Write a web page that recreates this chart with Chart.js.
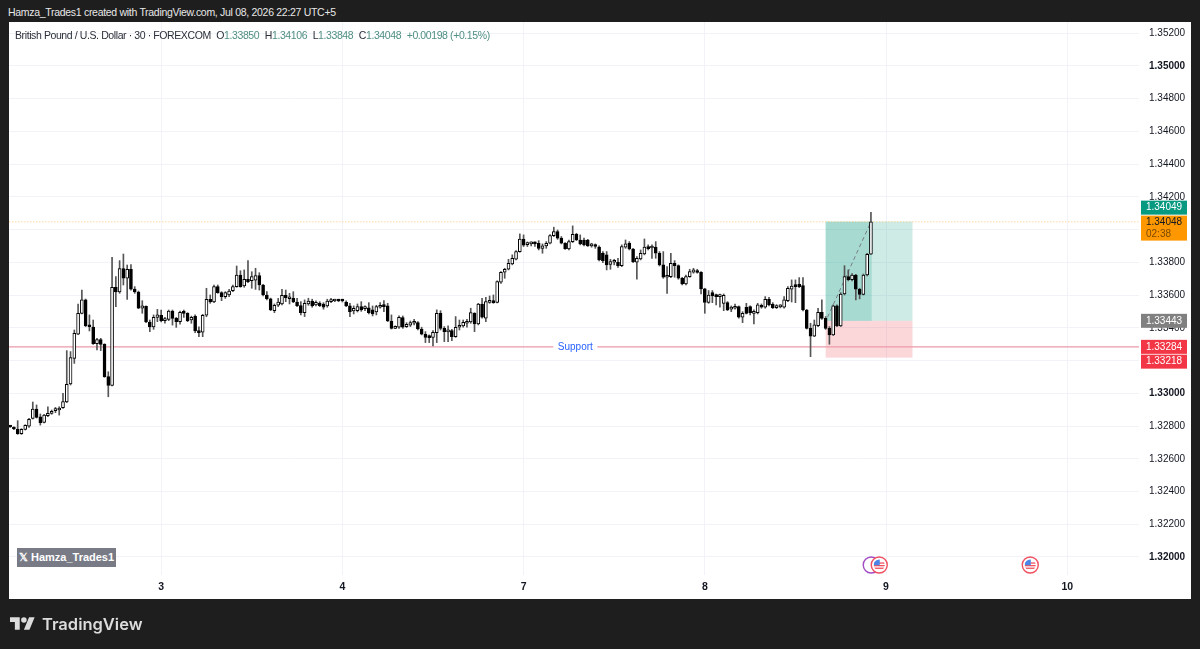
<!DOCTYPE html>
<html><head><meta charset="utf-8">
<style>
html,body{margin:0;padding:0;background:#1e1e1e;width:1200px;height:649px;overflow:hidden;font-family:"Liberation Sans",sans-serif}
#panel{position:absolute;left:9px;top:22px;width:1182px;height:577px;background:#fff}
#head{position:absolute;left:8px;top:5px;font-size:10.5px;line-height:14px;letter-spacing:-.3px;color:#e8e8e8;white-space:nowrap}
#leg{position:absolute;left:15px;top:28px;font-size:10.5px;line-height:14px;letter-spacing:-.4px;color:#2a2e39;white-space:nowrap}
#leg i{font-style:normal;color:#4f8f84}
#leg b{font-weight:normal;margin-left:3px}
#wm{position:absolute;left:17px;top:548px;width:99px;height:19px;background:#787b86;color:#fff;font-size:11px;line-height:19px;font-weight:bold;text-align:center;white-space:nowrap}
#logo{position:absolute;left:10px;top:617px}
#tv{position:absolute;left:42px;top:611px;font-family:Inter,sans-serif;font-size:16.5px;line-height:26px;font-weight:600;color:#dcdcdc}
canvas{display:block}
</style></head><body>
<div id="panel"><canvas id="c" width="1182" height="577"></canvas></div>
<div id="head">Hamza_Trades1 created with TradingView.com, Jul 08, 2026 22:27 UTC+5</div>
<div id="leg">British Pound / U.S. Dollar · 30 · FOREXCOM <b>O<i>1.33850</i></b> <b>H<i>1.34106</i></b> <b>L<i>1.33848</i></b> <b>C<i>1.34048</i></b> <b><i>+0.00198 (+0.15%)</i></b></div>
<div id="wm">𝕏 Hamza_Trades1</div>
<svg id="logo" width="25" height="13" viewBox="0 4 36 18"><path fill="#dcdcdc" d="M14 22H7V11H0V4h14v18zM28 22h-8l7.5-18h8L28 22z"/><circle cx="20" cy="8" r="4" fill="#dcdcdc"/></svg>
<div id="tv">TradingView</div>
<script src="https://cdn.jsdelivr.net/npm/chart.js@4"></script>
<script>
const opens=[1.32796,1.32792,1.32782,1.32753,1.32780,1.32800,1.32847,1.32904,1.32857,1.32823,1.32863,1.32878,1.32894,1.32898,1.32912,1.32947,1.33057,1.33214,1.33362,1.33489,1.33572,1.33413,1.33405,1.33303,1.33328,1.33299,1.33102,1.33049,1.33648,1.33619,1.33762,1.33703,1.33758,1.33637,1.33619,1.33521,1.33532,1.33436,1.33405,1.33464,
1.33477,1.33444,1.33452,1.33503,1.33458,1.33438,1.33495,1.33489,1.33448,1.33470,1.33381,1.33373,1.33477,1.33574,1.33558,1.33652,1.33615,1.33591,1.33601,1.33627,1.33652,1.33723,1.33656,1.33697,1.33688,1.33692,1.33719,1.33662,1.33601,1.33578,
1.33505,1.33538,1.33546,1.33599,1.33578,1.33580,1.33558,1.33536,1.33493,1.33546,1.33564,1.33540,1.33552,1.33546,1.33534,1.33560,1.33564,1.33569,1.33566,1.33556,1.33534,1.33503,1.33505,1.33530,1.33518,1.33522,1.33510,1.33497,1.33526,1.33534,
1.33534,1.33442,1.33397,1.33404,1.33463,1.33408,1.33416,1.33428,1.33432,1.33393,1.33361,1.33342,1.33342,1.33371,1.33489,1.33397,1.33375,1.33383,1.33346,1.33404,1.33412,1.33428,1.33436,1.33489,1.33424,1.33546,1.33459,1.33556,1.33562,1.33556,
1.33679,1.33740,1.33758,1.33791,1.33819,1.33866,1.33943,1.33909,1.33913,1.33915,1.33917,1.33886,1.33901,1.33917,1.33964,1.33988,1.33948,1.33917,1.33882,1.33927,1.33972,1.33937,1.33937,1.33937,1.33901,1.33901,1.33893,1.33856,1.33846,1.33787,
1.33801,1.33801,1.33780,1.33893,1.33917,1.33882,1.33801,1.33821,1.33852,1.33893,1.33888,1.33893,1.33856,1.33785,1.33709,1.33713,1.33795,1.33780,1.33703,1.33668,1.33713,1.33740,1.33750,1.33740,1.33638,1.33556,1.33615,1.33595,1.33591,1.33550,
1.33554,1.33514,1.33520,1.33530,1.33465,1.33526,1.33530,1.33489,1.33493,1.33536,1.33526,1.33575,1.33544,1.33524,1.33528,1.33526,1.33566,1.33636,1.33660,1.33666,1.33658,1.33509,1.33397,1.33350,1.33414,1.33495,1.33458,1.33397,1.33357,1.33534,
1.33412,1.33607,1.33713,1.33695,1.33723,1.33636,1.33605,1.33723,1.33850];
const highs=[1.32798,1.32796,1.32833,1.32784,1.32808,1.32847,1.32947,1.32929,1.32874,1.32872,1.32918,1.32898,1.32914,1.32918,1.33000,1.33261,1.33255,1.33387,1.33546,1.33631,1.33576,1.33479,1.33448,1.33336,1.33336,1.33303,1.33132,1.33831,1.33713,1.33811,1.33851,1.33784,1.33786,1.33652,1.33625,1.33566,1.33534,1.33448,1.33479,1.33513,
1.33509,1.33464,1.33509,1.33509,1.33464,1.33503,1.33509,1.33493,1.33472,1.33479,1.33407,1.33483,1.33642,1.33601,1.33662,1.33662,1.33621,1.33621,1.33635,1.33662,1.33778,1.33749,1.33754,1.33811,1.33743,1.33764,1.33737,1.33666,1.33621,1.33582,
1.33546,1.33580,1.33635,1.33631,1.33611,1.33621,1.33580,1.33560,1.33571,1.33581,1.33575,1.33565,1.33560,1.33554,1.33575,1.33581,1.33575,1.33575,1.33575,1.33565,1.33550,1.33534,1.33546,1.33560,1.33534,1.33554,1.33534,1.33538,1.33554,1.33566,
1.33550,1.33479,1.33412,1.33473,1.33473,1.33432,1.33442,1.33452,1.33438,1.33404,1.33377,1.33357,1.33383,1.33510,1.33505,1.33408,1.33412,1.33391,1.33469,1.33448,1.33448,1.33452,1.33520,1.33493,1.33550,1.33581,1.33587,1.33595,1.33601,1.33687,
1.33744,1.33764,1.33819,1.33846,1.33872,1.33974,1.33968,1.33925,1.33925,1.33925,1.33933,1.33913,1.33927,1.33970,1.34015,1.33998,1.33958,1.33921,1.33937,1.34023,1.33978,1.33968,1.33948,1.33941,1.33917,1.33913,1.33901,1.33866,1.33866,1.33819,
1.33819,1.33825,1.33907,1.33937,1.33927,1.33886,1.33835,1.33876,1.33943,1.33907,1.33907,1.33927,1.33866,1.33866,1.33774,1.33856,1.33811,1.33785,1.33709,1.33723,1.33758,1.33764,1.33758,1.33744,1.33642,1.33628,1.33628,1.33607,1.33607,1.33607,
1.33560,1.33534,1.33546,1.33534,1.33499,1.33550,1.33534,1.33510,1.33550,1.33546,1.33591,1.33587,1.33554,1.33542,1.33542,1.33591,1.33652,1.33693,1.33693,1.33707,1.33707,1.33513,1.33428,1.33448,1.33520,1.33571,1.33469,1.33408,1.33540,1.33540,
1.33615,1.33780,1.33754,1.33731,1.33727,1.33642,1.33729,1.33856,1.34106];
const lows=[1.32792,1.32778,1.32749,1.32749,1.32776,1.32792,1.32843,1.32849,1.32806,1.32819,1.32857,1.32872,1.32882,1.32867,1.32908,1.32943,1.33051,1.33183,1.33358,1.33485,1.33407,1.33381,1.33299,1.33265,1.33261,1.33098,1.32979,1.33045,1.33530,1.33611,1.33662,1.33574,1.33631,1.33611,1.33517,1.33489,1.33432,1.33377,1.33391,1.33438,
1.33436,1.33428,1.33444,1.33417,1.33403,1.33422,1.33464,1.33438,1.33428,1.33371,1.33346,1.33346,1.33468,1.33550,1.33554,1.33611,1.33566,1.33580,1.33591,1.33621,1.33648,1.33648,1.33648,1.33676,1.33642,1.33635,1.33631,1.33595,1.33570,1.33505,
1.33493,1.33530,1.33540,1.33560,1.33546,1.33554,1.33530,1.33479,1.33469,1.33538,1.33526,1.33534,1.33530,1.33514,1.33526,1.33554,1.33560,1.33560,1.33558,1.33530,1.33469,1.33485,1.33497,1.33501,1.33505,1.33485,1.33473,1.33479,1.33520,1.33499,
1.33438,1.33393,1.33395,1.33397,1.33397,1.33402,1.33408,1.33418,1.33387,1.33357,1.33310,1.33310,1.33290,1.33310,1.33387,1.33316,1.33316,1.33322,1.33342,1.33387,1.33404,1.33404,1.33428,1.33377,1.33418,1.33459,1.33438,1.33550,1.33550,1.33552,
1.33672,1.33703,1.33754,1.33785,1.33815,1.33862,1.33897,1.33897,1.33901,1.33897,1.33876,1.33856,1.33886,1.33913,1.33958,1.33941,1.33913,1.33880,1.33876,1.33921,1.33933,1.33907,1.33901,1.33897,1.33893,1.33886,1.33809,1.33799,1.33754,1.33758,
1.33785,1.33770,1.33774,1.33886,1.33876,1.33799,1.33697,1.33815,1.33846,1.33876,1.33825,1.33825,1.33778,1.33703,1.33611,1.33707,1.33709,1.33697,1.33662,1.33662,1.33709,1.33734,1.33734,1.33607,1.33489,1.33550,1.33554,1.33540,1.33526,1.33505,
1.33505,1.33499,1.33514,1.33459,1.33432,1.33485,1.33479,1.33424,1.33485,1.33520,1.33520,1.33534,1.33518,1.33518,1.33522,1.33520,1.33560,1.33558,1.33554,1.33646,1.33503,1.33393,1.33224,1.33346,1.33408,1.33452,1.33391,1.33300,1.33353,1.33408,
1.33408,1.33601,1.33687,1.33687,1.33571,1.33577,1.33601,1.33717,1.33848];
const closes=[1.32794,1.32782,1.32753,1.32780,1.32804,1.32841,1.32904,1.32853,1.32821,1.32867,1.32878,1.32888,1.32902,1.32908,1.32949,1.33055,1.33218,1.33367,1.33489,1.33572,1.33413,1.33407,1.33303,1.33328,1.33299,1.33102,1.33049,1.33648,1.33619,1.33762,1.33703,1.33758,1.33637,1.33619,1.33521,1.33534,1.33436,1.33405,1.33464,1.33479,
1.33444,1.33452,1.33503,1.33458,1.33438,1.33495,1.33489,1.33444,1.33464,1.33381,1.33371,1.33477,1.33574,1.33558,1.33652,1.33615,1.33591,1.33615,1.33625,1.33652,1.33723,1.33652,1.33697,1.33682,1.33713,1.33719,1.33662,1.33601,1.33578,1.33509,
1.33538,1.33558,1.33599,1.33584,1.33584,1.33558,1.33536,1.33493,1.33550,1.33564,1.33534,1.33556,1.33536,1.33526,1.33564,1.33571,1.33569,1.33564,1.33564,1.33534,1.33499,1.33520,1.33530,1.33510,1.33526,1.33493,1.33485,1.33530,1.33534,1.33530,
1.33442,1.33397,1.33404,1.33465,1.33404,1.33422,1.33432,1.33432,1.33393,1.33361,1.33342,1.33340,1.33373,1.33489,1.33397,1.33377,1.33381,1.33346,1.33404,1.33414,1.33434,1.33438,1.33493,1.33424,1.33546,1.33465,1.33560,1.33564,1.33554,1.33683,
1.33740,1.33758,1.33795,1.33825,1.33866,1.33943,1.33905,1.33917,1.33917,1.33913,1.33886,1.33901,1.33917,1.33964,1.33988,1.33948,1.33917,1.33884,1.33927,1.33972,1.33937,1.33913,1.33907,1.33901,1.33905,1.33897,1.33815,1.33811,1.33785,1.33805,
1.33809,1.33780,1.33897,1.33913,1.33882,1.33805,1.33825,1.33856,1.33893,1.33884,1.33893,1.33856,1.33785,1.33709,1.33713,1.33795,1.33780,1.33703,1.33668,1.33713,1.33744,1.33754,1.33738,1.33638,1.33556,1.33601,1.33595,1.33591,1.33595,1.33599,
1.33510,1.33520,1.33526,1.33465,1.33489,1.33489,1.33493,1.33497,1.33540,1.33526,1.33575,1.33540,1.33524,1.33534,1.33534,1.33571,1.33642,1.33656,1.33652,1.33652,1.33509,1.33397,1.33350,1.33418,1.33495,1.33458,1.33397,1.33357,1.33534,1.33412,
1.33607,1.33713,1.33695,1.33723,1.33636,1.33605,1.33723,1.33850,1.34048];
const dayTickIndex=[40,88,136,184,232,280];
const dayLabels=["3","4","7","8","9","10"];
const priceTicks=[1.352,1.35,1.348,1.346,1.344,1.342,1.34,1.338,1.336,1.334,1.332,1.33,1.328,1.326,1.324,1.322,1.32];
const majorPrices=[1.35,1.34,1.33,1.32];
const supportPrice=1.33284, lastPrice=1.34048, targetPrice=1.34049, entryPrice=1.33443, stopPrice=1.33218;
const tradeStartIndex=216, tradeNowIndex=228.2, tradeEndIndex=239;
const tradePathX=[216.5,228], tradePathY=[1.33465,1.34048];
const eventIndex=[230.2,270.2];
const fam='"Liberation Sans",sans-serif';

const overlay={id:'overlay',
 beforeDatasetsDraw(ch){const {ctx,scales:{x,y}}=ch;const l=x.getPixelForValue(tradeStartIndex),m=x.getPixelForValue(tradeNowIndex),r=x.getPixelForValue(tradeEndIndex);
  const yT=y.getPixelForValue(targetPrice),yE=y.getPixelForValue(entryPrice),yS=y.getPixelForValue(stopPrice);
  ctx.save();ctx.fillStyle='rgba(8,153,129,.2)';ctx.fillRect(l,yT,r-l,yE-yT);ctx.fillRect(l,yT,m-l,yE-yT);
  ctx.fillStyle='rgba(242,54,69,.2)';ctx.fillRect(l,yE,r-l,yS-yE);ctx.restore();},
 afterDraw(ch){const {ctx,scales:{x,y},chartArea:a}=ch;ctx.save();
  const sy=y.getPixelForValue(supportPrice);const cx=x.getPixelForValue(149.7);
  ctx.font='10px '+fam;ctx.textAlign='center';ctx.textBaseline='middle';
  ctx.fillStyle='#fff';ctx.fillRect(cx-22,sy-5,44,10);ctx.fillStyle='#2962ff';ctx.fillText('Support',cx,sy);
  const drawFlag=(ex)=>{const px=x.getPixelForValue(ex),py=a.bottom-10;
    ctx.save();ctx.beginPath();ctx.arc(px,py,8,0,7);ctx.fillStyle='#fff';ctx.fill();ctx.strokeStyle='#f0505f';ctx.lineWidth=1.4;ctx.stroke();
    ctx.beginPath();ctx.arc(px,py,5.5,0,7);ctx.clip();
    ctx.fillStyle='#fff';ctx.fillRect(px-6,py-6,12,12);
    ctx.fillStyle='#f0505f';for(let k=0;k<3;k++)ctx.fillRect(px-6,py-2.6+k*2.6,12,1.3);
    ctx.fillStyle='#4a86e8';ctx.fillRect(px-6,py-6,6.5,6.2);ctx.restore();};
  const ring=x.getPixelForValue(eventIndex[0])-8;
  ctx.beginPath();ctx.arc(ring,a.bottom-10,8,0,7);ctx.fillStyle='#fff';ctx.fill();ctx.strokeStyle='#a24bc4';ctx.lineWidth=1.4;ctx.stroke();
  eventIndex.forEach(drawFlag);
  const L=a.right+2,W=46,tag=(val,bg,fg,h,dy,txt,sub)=>{const c=y.getPixelForValue(val)+dy;
    ctx.fillStyle=bg;ctx.fillRect(L,c-h/2,W,h);ctx.fillStyle=fg;ctx.textAlign='center';ctx.textBaseline='middle';ctx.font='10px '+fam;
    if(sub){ctx.fillText(txt,L+W/2,c-6);ctx.fillStyle='#7a4a00';ctx.textAlign='left';ctx.fillText(sub,L+5,c+6);}else ctx.fillText(txt,L+W/2,c);};
  tag(targetPrice,'#089981','#fff',14,-14,'1.34049');
  tag(lastPrice,'#ff9800','#131722',25,6.3,'1.34048','02:38');
  tag(entryPrice,'#808080','#fff',14,0,'1.33443');
  tag(supportPrice,'#f23645','#fff',14,0,'1.33284');
  tag(stopPrice,'#f23645','#fff',14,4,'1.33218');
  ctx.restore();}
};
const wickData=opens.map((_,i)=>({x:i,y:[lows[i],highs[i]]}));
const bodyData=opens.map((o,i)=>({x:i,y:[o,closes[i]]}));
const bodyFill=opens.map((o,i)=>closes[i]>=o?'#ffffff':'#000000');
new Chart(document.getElementById('c'),{
 type:'bar',
 data:{datasets:[
  {type:'line',data:[{x:-1,y:lastPrice},{x:300,y:lastPrice}],borderColor:'rgba(255,152,0,.55)',borderWidth:1,borderDash:[1,2],pointRadius:0,order:5},
  {type:'line',data:[{x:-1,y:supportPrice},{x:300,y:supportPrice}],borderColor:'#eb9aa8',borderWidth:1.4,pointRadius:0,order:4},
  {type:'line',data:tradePathX.map((v,i)=>({x:v,y:tradePathY[i]})),borderColor:'#787b86',borderWidth:1,borderDash:[4,3],pointRadius:0,order:3},
  {data:wickData,backgroundColor:'#555',borderWidth:0,barThickness:1,grouped:false,order:2},
  {data:bodyData,backgroundColor:bodyFill,borderColor:'#000',borderWidth:1,borderSkipped:false,barThickness:3,grouped:false,minBarLength:2,order:1}
 ]},
 options:{responsive:false,animation:false,events:[],layout:{padding:0},
  plugins:{legend:{display:false},tooltip:{enabled:false}},
  scales:{
   x:{type:'linear',offset:false,min:-0.3,max:299,grid:{color:'#f1f3f8',drawTicks:false,offset:false},border:{display:false},
    afterBuildTicks(s){s.ticks=dayTickIndex.map(value=>({value}));},
    afterFit(s){s.height=24;s.paddingLeft=0;s.paddingRight=0;},
    ticks:{autoSkip:false,maxRotation:0,padding:6,color:'#131722',font:{family:fam,size:10.5,weight:'bold'},callback:v=>dayLabels[dayTickIndex.indexOf(v)]}},
   y:{type:'linear',position:'right',min:1.3189,max:1.352688,grid:{color:'#f1f3f8',drawTicks:false},border:{display:false},
    afterBuildTicks(s){s.ticks=priceTicks.map(value=>({value}));},
    afterFit(s){s.width=52;s.paddingTop=0;s.paddingBottom=0;},
    ticks:{padding:10,color:'#131722',callback:v=>v.toFixed(5),
     font:c=>({family:fam,size:10,weight:majorPrices.includes(c.tick&&c.tick.value)?'bold':'normal'})}}
  }},
 plugins:[overlay]
});
</script>
</body></html>
